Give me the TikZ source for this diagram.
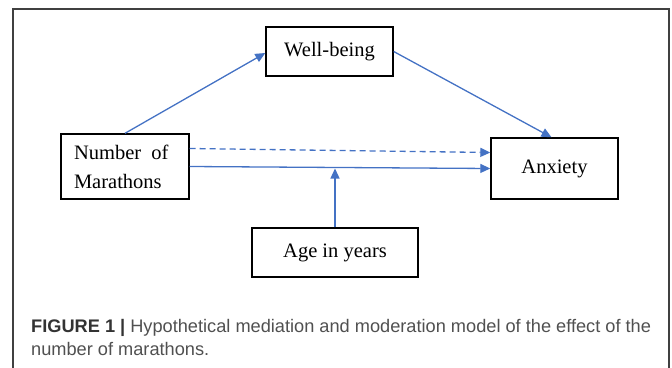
\documentclass[tikz,border=0pt]{standalone}
\usepackage{fontspec}
\usepackage{tikz}
\usetikzlibrary{arrows.meta}

\newfontfamily\boxfont{Liberation Serif}
\newfontfamily\capfont{Liberation Sans}
\definecolor{pathblue}{RGB}{68,114,196}
\definecolor{capgray}{RGB}{80,80,80}

\tikzset{
  var/.style={draw=black, line width=1.4pt, inner sep=0pt,
    font=\boxfont\fontsize{20.5}{29}\selectfont},
  path/.style={draw=pathblue, line width=1.3pt,
    -{Triangle[length=10pt,width=9pt]}}
}

\begin{document}
\begin{tikzpicture}[x=1pt,y=-1pt]

\useasboundingbox (0,0) rectangle (672,367);

% frame
\draw[black!75, line width=1.3pt] (13,375) -- (13,9) -- (669,9) -- (669,375);

\node[var, minimum width=127pt, minimum height=49pt] (wb) at (329.5,51.5) {Well-being};
\node[var, minimum width=128pt, minimum height=65pt, text width=102pt,
      inner xsep=13pt, align=left] (num) at (125,166.5) {Number\hspace{0.5em}of\\Marathons};
\node[var, minimum width=127pt, minimum height=61pt] (anx) at (554.5,168.5) {Anxiety};
\node[var, minimum width=166pt, minimum height=49pt] (age) at (335,252.5) {Age in years};

\draw[path] (num.north) -- ([yshift=-1.5pt]wb.west);
\draw[path] (wb.east) -- ([xshift=-3pt]anx.north);
\draw[path, dashed, dash pattern=on 6pt off 4pt] ([yshift=18pt]num.east) -- ([yshift=16pt]anx.west);
\draw[path] (num.east) -- (anx.west);
\draw[path] (age.north) -- ([yshift=-2pt]age.north |- num.east);

\node[anchor=base west, inner sep=0pt, align=left, text=capgray,
      font=\capfont\fontsize{18.2}{23}\selectfont] (cap) at (31,355)
  {\textbf{\color{black!80}FIGURE 1 |} Hypothetical mediation and moderation model of the effect of the\\
   number of marathons.};

\end{tikzpicture}
\end{document}
